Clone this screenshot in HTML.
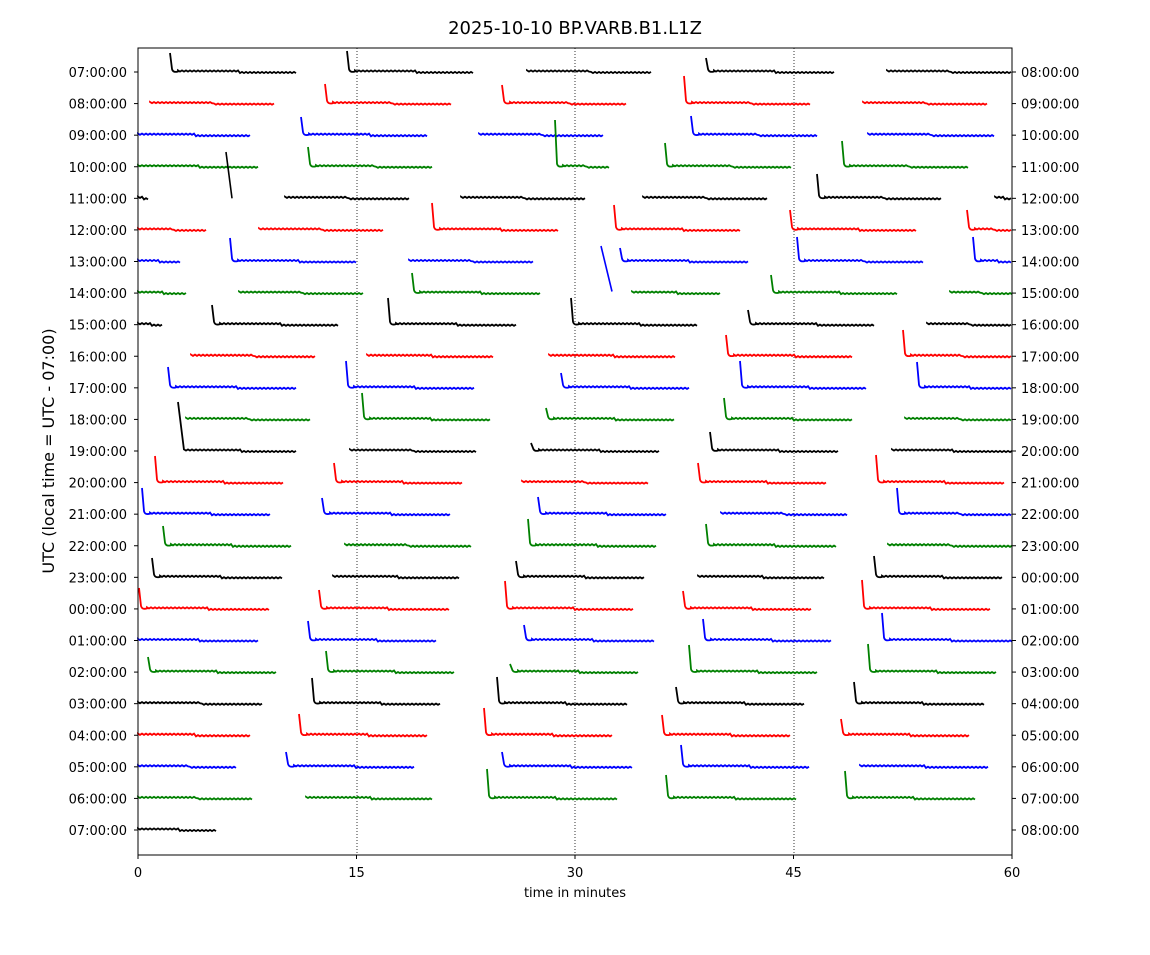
<!DOCTYPE html>
<html><head><meta charset="utf-8"><style>
html,body{margin:0;padding:0;background:#fff;}
svg text{font-family:"DejaVu Sans","Liberation Sans",sans-serif;}
</style></head><body>
<svg id="s" width="1150" height="950" xmlns="http://www.w3.org/2000/svg">
<rect width="1150" height="950" fill="#fff"/>
<text x="575" y="34" font-size="18" text-anchor="middle">2025-10-10 BP.VARB.B1.L1Z</text>
<g stroke="#000" stroke-width="0.8" stroke-dasharray="1,2">
<line x1="357" y1="48" x2="357" y2="855"/><line x1="575" y1="48" x2="575" y2="855"/><line x1="794" y1="48" x2="794" y2="855"/>
</g>
<g id="data" fill="none" stroke-width="2"></g>
<rect x="138" y="48" width="874" height="807" fill="none" stroke="#000" stroke-width="1"/>
<g id="ticks" font-size="13"></g>
<text x="575" y="897" font-size="13" text-anchor="middle">time in minutes</text>
<text transform="translate(54,451) rotate(-90)" font-size="16" text-anchor="middle">UTC (local time = UTC - 07:00)</text>
</svg>
<script>
var ns="http://www.w3.org/2000/svg";
function el(t,a,p,txt){var e=document.createElementNS(ns,t);for(var k in a)e.setAttribute(k,a[k]);if(txt!==undefined)e.textContent=txt;p.appendChild(e);return e;}
var cols=["#000","#f00","#00f","#008000"];
var rows=[
[[170,297,53],[347,474,51],[527,652],[706,835,58],[887,1012]],
[[150,275],[325,451,84],[502,627,85],[684,810,76],[863,988]],
[[138,251],[301,428,117],[479,604],[691,817,116],[868,994]],
[[138,258],[308,433,147],[555,609,120],[665,791,143],[842,968,141]],
[[138,148],[226,232,152,1],[285,409],[461,585],[643,767],[817,942,174],[995,1012]],
[[138,206],[259,383],[432,559,203],[614,741,205],[790,917,210],[967,1012,210]],
[[138,180],[230,357,238],[409,533],[601,612,246,1],[620,748,248],[797,923,237],[973,1012,237]],
[[138,187],[239,363],[412,540,273],[632,721],[771,898,275],[950,1012]],
[[138,163],[212,339,305],[388,516,298],[571,698,298],[748,875,310],[927,1012]],
[[191,316],[367,494],[549,676],[726,853,335],[903,1012,330]],
[[168,296,367],[346,474,361],[561,689,373],[740,867,361],[917,1012,362]],
[[186,311],[362,490,393],[546,674,408],[724,852,398],[905,1012]],
[[178,297,402,1],[350,476],[531,660,443],[710,838,432],[892,1012]],
[[155,284,456],[334,462,463],[522,648],[698,827,463],[876,1005,455]],
[[142,271,488],[322,451,498],[538,667,497],[721,847],[897,1012,488]],
[[163,292,526],[345,471],[528,657,519],[706,836,524],[888,1012]],
[[152,282,558],[333,460],[516,645,561],[698,825],[874,1003,556]],
[[139,269,588],[319,449,590],[505,633,581],[683,812,591],[862,991,580]],
[[138,258],[308,437,621],[524,654,625],[703,832,619],[882,1012,613]],
[[148,277,657],[326,454,651],[510,639,664],[689,818,645],[868,997,644]],
[[138,262],[312,441,678],[497,627,677],[676,805,687],[854,984,682]],
[[138,250],[299,428,714],[484,613,708],[662,791,715],[841,970,719]],
[[138,237],[286,415,752],[502,632,752],[681,809,745],[860,988]],
[[138,253],[306,433],[487,617,769],[666,796,775],[845,975,771]],
[[138,217]]
];
var g=document.getElementById("data");
var sp=(830-72)/24;
rows.forEach(function(r,i){
 var y=72+i*sp,c=cols[i%4];
 r.forEach(function(s){
  var x0=s[0],x1=s[1],d,st;
  if(s[3]){
    if(x1-x0<20){el("path",{d:"M"+x0+","+s[2]+" L"+x1+","+(i==6?y+30:y),stroke:c,"stroke-width":1.6},g);return;}
    d="M"+x0+","+s[2]+" L"+(x0+6)+","+(y-1);st=x0+6;
  } else if(s[2]!==undefined){
    d="M"+x0+","+s[2]+" L"+(x0+2)+","+(y-3)+" Q"+(x0+3)+","+(y+1)+" "+(x0+8)+","+(y-0.5);st=x0+8;
  } else {d="M"+x0+","+(y-1);st=x0;}
  var n=0;
  for(var x=st;x<=x1;x+=2,n++){var yy=y-1+((x-st)/(x1-st+1)>0.5?1.5:0)+(n%2?0.6:-0.6);d+=" L"+x+","+yy.toFixed(1);}
  el("path",{d:d,stroke:c,"stroke-width":1.8},g);
 });
});
var t=document.getElementById("ticks");
for(var i=0;i<25;i++){
 var y=72+i*sp,h=(7+i)%24,h2=(8+i)%24;
 el("line",{x1:134,x2:138,y1:y,y2:y,stroke:"#000"},t);
 el("line",{x1:1012,x2:1016,y1:y,y2:y,stroke:"#000"},t);
 el("text",{x:127,y:y+5,"text-anchor":"end"},t,(h<10?"0":"")+h+":00:00");
 el("text",{x:1021,y:y+5},t,(h2<10?"0":"")+h2+":00:00");
}
[0,15,30,45,60].forEach(function(m){var x=138+m*874/60;
 el("line",{x1:x,x2:x,y1:855,y2:859,stroke:"#000"},t);
 el("text",{x:x,y:877,"text-anchor":"middle"},t,String(m));});
</script>
</body></html>
